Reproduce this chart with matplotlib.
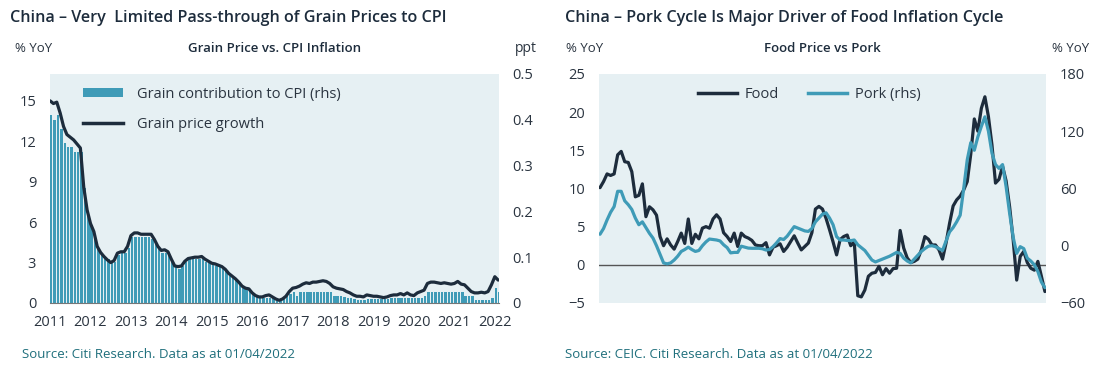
import numpy as np
import matplotlib
matplotlib.use('Agg')
import matplotlib.pyplot as plt
from matplotlib.patches import Patch
from matplotlib.lines import Line2D

plt.rcParams['font.family'] = ['Open Sans', 'DejaVu Sans']

# ---- data: grain chart (monthly, Jan 2011 - Feb 2022) ----
grain_growth = [
    15.0, 14.8, 14.9, 14.1, 13.1, 12.5, 12.3, 12.1, 11.8, 11.5, 8.6, 6.9,
    5.9, 5.3, 4.2, 3.75, 3.45, 3.2, 3.0, 3.15, 3.7, 3.8, 3.8, 4.2,
    5.0, 5.2, 5.2, 5.1, 5.1, 5.1, 5.1, 4.7, 4.2, 3.9, 3.95, 3.8,
    3.25, 2.75, 2.7, 2.75, 3.1, 3.3, 3.35, 3.4, 3.4, 3.45, 3.25, 3.1,
    2.95, 2.9, 2.8, 2.7, 2.5, 2.2, 2.0, 1.8, 1.55, 1.25, 1.1, 1.05,
    0.75, 0.55, 0.45, 0.45, 0.55, 0.6, 0.45, 0.3, 0.2, 0.3, 0.5, 0.85,
    1.1, 1.15, 1.25, 1.4, 1.5, 1.45, 1.55, 1.55, 1.6, 1.65, 1.6, 1.45,
    1.2, 1.1, 1.05, 1.0, 0.85, 0.75, 0.6, 0.5, 0.5, 0.45, 0.6, 0.55,
    0.5, 0.5, 0.45, 0.4, 0.45, 0.55, 0.6, 0.6, 0.7, 0.6, 0.75, 0.6,
    0.55, 0.75, 0.85, 0.95, 1.45, 1.55, 1.55, 1.5, 1.45, 1.5, 1.45, 1.4,
    1.45, 1.6, 1.4, 1.35, 1.1, 0.85, 0.75, 0.75, 0.8, 0.75, 0.85, 1.35,
    1.95, 1.7,
]
grain_contrib = [
    0.41, 0.40, 0.41, 0.38, 0.35, 0.34, 0.34, 0.33, 0.33, 0.33, 0.25, 0.19,
    0.17, 0.15, 0.12, 0.11, 0.10, 0.095, 0.09, 0.09, 0.105, 0.11, 0.11, 0.12,
    0.145, 0.145, 0.145, 0.145, 0.145, 0.145, 0.14, 0.13, 0.12, 0.11, 0.11, 0.11,
    0.09, 0.08, 0.075, 0.08, 0.09, 0.095, 0.095, 0.095, 0.095, 0.095, 0.09, 0.09,
    0.085, 0.08, 0.08, 0.075, 0.07, 0.06, 0.055, 0.05, 0.045, 0.035, 0.03, 0.03,
    0.02, 0.015, 0.01, 0.01, 0.01, 0.01, 0.01, 0.005, 0.005, 0.01, 0.015, 0.02,
    0.025, 0.015, 0.025, 0.025, 0.025, 0.025, 0.025, 0.025, 0.025, 0.025, 0.025, 0.025,
    0.015, 0.015, 0.015, 0.013, 0.01, 0.01, 0.008, 0.007, 0.007, 0.007, 0.008, 0.008,
    0.008, 0.008, 0.008, 0.008, 0.008, 0.01, 0.01, 0.01, 0.01, 0.01, 0.01, 0.01,
    0.01, 0.01, 0.012, 0.015, 0.025, 0.025, 0.025, 0.025, 0.025, 0.025, 0.025, 0.025,
    0.025, 0.025, 0.025, 0.015, 0.015, 0.015, 0.007, 0.007, 0.007, 0.007, 0.007, 0.012,
    0.033, 0.025,
]
year_ticks = list(range(2011, 2023))

# ---- data: food vs pork (monthly, Jan 2011 - Jul 2021) ----
food = [
    10.1, 10.9, 11.9, 11.7, 11.9, 14.4, 14.85, 13.5, 13.4, 12.2, 8.9, 9.1,
    10.6, 6.3, 7.6, 7.2, 6.5, 3.7, 2.5, 3.4, 2.6, 2.05, 3.05, 4.15,
    2.8, 6.0, 2.8, 4.0, 3.4, 4.8, 5.0, 4.8, 6.0, 6.55, 6.0, 4.2,
    3.7, 3.05, 4.15, 2.4, 4.15, 3.7, 3.5, 3.2, 2.6, 2.5, 2.5, 2.9,
    1.3, 2.3, 2.5, 2.75, 1.75, 2.3, 3.05, 3.8, 2.85, 1.95, 2.4, 2.85,
    4.2, 7.3, 7.65, 7.3, 6.1, 4.6, 3.0, 1.3, 3.3, 3.7, 3.9, 2.5,
    3.0, -4.05, -4.2, -3.3, -1.5, -1.1, -1.0, -0.2, -1.3, -0.5, -1.1, -0.5,
    -0.45, 4.5, 2.2, 0.9, 0.3, 0.45, 0.75, 1.95, 3.7, 3.35, 2.6, 2.6,
    1.95, 0.75, 2.85, 5.45, 7.7, 8.5, 9.0, 9.8, 10.9, 14.5, 19.1, 17.5,
    20.5, 22.0, 19.4, 15.7, 10.7, 11.2, 12.9, 11.0, 7.6, 3.3, -2.0, 1.1,
    1.75, 0.3, -0.45, -0.7, 0.45, -1.5, -3.5,
]
pork = [
    12, 18, 27, 35, 41, 57, 57, 47, 43, 38, 29, 22,
    25, 19, 13, 8, 0, -9, -18, -19, -18, -15, -11, -6,
    -4, -1.5, -4, -6, -5, 0, 4, 7, 6.5, 6, 5, 1,
    -2, -7.5, -7, -7, -0.5, -1.5, -2.5, -2.7, -2.7, -2.7, -3.2, -4.5,
    -4, -1, 3, 7.5, 6.5, 10, 15, 20, 18.5, 17, 15.5, 15,
    18, 25, 29, 33, 34.5, 29, 22, 9.5, 6, 6, 5.5, 5.3,
    6, 1, -2, -5, -10, -15, -17, -15.5, -14, -12.5, -11, -9,
    -7, -8, -13, -16, -18, -14, -10, -6, -3, -0.5, 0, -1,
    -3, -5, 5, 14.5, 19, 25, 32, 60, 90, 108, 100, 114,
    125, 135, 120, 97, 85, 81, 85, 62, 34, 9, -8, -1,
    -3, -13, -16, -20, -27, -38, -44,
]

NAVY = '#1d2c3c'
TEAL = '#3f9bb7'
BG = '#e6f0f3'
TXT = '#2a3440'
SRC = '#1f6f7c'

fig = plt.figure(figsize=(11, 3.75), dpi=100)

# ================= left chart =================
axL2 = fig.add_axes([0.0455, 0.192, 0.408, 0.611])
axL = axL2.twinx()
axL2.set_facecolor(BG)

t = 2011 + np.arange(len(grain_growth)) / 12
axL2.bar(t, grain_contrib, width=0.72 / 12, align='edge', color=TEAL, linewidth=0)
axL.plot(t, grain_growth, color=NAVY, lw=2.3, solid_capstyle='round')

# bars sit on the ppt scale (right), line on % YoY (left)
axL.yaxis.tick_left()
axL2.yaxis.tick_right()
axL.set_ylim(0, 17)
axL.set_yticks([0, 3, 6, 9, 12, 15])
axL2.set_ylim(0, 0.5)
axL2.set_yticks([0, 0.1, 0.2, 0.3, 0.4, 0.5])
axL2.set_yticklabels(['0', '0.1', '0.2', '0.3', '0.4', '0.5'])
axL2.set_xlim(2011.0, 2022.1)
axL2.set_xticks(year_ticks)
for a in (axL, axL2):
    for s in a.spines.values():
        s.set_visible(False)
    a.tick_params(length=0, labelsize=10.5, colors=TXT)
axL.tick_params(axis='y', pad=10)
axL2.tick_params(axis='y', pad=10)
axL2.tick_params(axis='x', pad=9)
axL2.spines['bottom'].set_visible(True)
axL2.spines['bottom'].set_color('#777777')
axL2.spines['bottom'].set_linewidth(0.8)

handles = [Patch(facecolor=TEAL, edgecolor='none'), Line2D([], [], color=NAVY, lw=2.5)]
axL.legend(handles, ['Grain contribution to CPI (rhs)', 'Grain price growth'],
           loc='upper left', bbox_to_anchor=(0.045, 1.0), frameon=False,
           fontsize=10.5, labelcolor=TXT, handlelength=2.7, handleheight=0.6,
           handletextpad=0.95, labelspacing=1.0)

# ================= right chart =================
axR = fig.add_axes([0.5445, 0.192, 0.4064, 0.611])
axR.set_facecolor(BG)
axR2 = axR.twinx()
m = np.arange(len(food))
axR.axhline(0, color='#555555', lw=1)
axR.plot(m, food, color=NAVY, lw=2.3, solid_capstyle='round')
axR2.plot(m, pork, color=TEAL, lw=2.3, solid_capstyle='round')
axR.set_ylim(-5, 25)
axR.set_yticks([-5, 0, 5, 10, 15, 20, 25])
axR2.set_ylim(-60, 180)
axR2.set_yticks([-60, 0, 60, 120, 180])
axR.set_xlim(-0.3, len(food) - 0.7)
axR.set_xticks([])
for a in (axR, axR2):
    for s in a.spines.values():
        s.set_visible(False)
    a.tick_params(length=0, labelsize=10.5, colors=TXT, pad=10)

handlesR = [Line2D([], [], color=NAVY, lw=2.5), Line2D([], [], color=TEAL, lw=2.5)]
axR2.legend(handlesR, ['Food', 'Pork (rhs)'], loc='upper center',
            bbox_to_anchor=(0.47, 1.0), ncol=2, frameon=False, fontsize=10.5,
            labelcolor=TXT, handlelength=2.7, handletextpad=0.5, columnspacing=2.0)

# ================= texts =================
fig.text(10 / 1100, 1 - 18 / 375, 'China \u2013 Very  Limited Pass-through of Grain Prices to CPI',
         fontsize=11.6, fontweight='semibold', color=NAVY, va='center', ha='left')
fig.text(565 / 1100, 1 - 18 / 375, 'China \u2013 Pork Cycle Is Major Driver of Food Inflation Cycle',
         fontsize=11.6, fontweight='semibold', color=NAVY, va='center', ha='left')

fig.text(15 / 1100, 1 - 48 / 375, '% YoY', fontsize=9.5, color=TXT, va='center', ha='left')
fig.text(275 / 1100, 1 - 48 / 375, 'Grain Price vs. CPI Inflation', fontsize=9.5,
         fontweight='semibold', color=NAVY, va='center', ha='center')
fig.text(515 / 1100, 1 - 49 / 375, 'ppt', fontsize=10, color=TXT, va='center', ha='left')

fig.text(566 / 1100, 1 - 48 / 375, '% YoY', fontsize=9.5, color=TXT, va='center', ha='left')
fig.text(822 / 1100, 1 - 48 / 375, 'Food Price vs Pork', fontsize=9.5,
         fontweight='semibold', color=NAVY, va='center', ha='center')
fig.text(1052 / 1100, 1 - 48 / 375, '% YoY', fontsize=9.5, color=TXT, va='center', ha='left')

fig.text(22 / 1100, 1 - 355 / 375, 'Source: Citi Research. Data as at 01/04/2022',
         fontsize=9.5, color=SRC, va='center', ha='left')
fig.text(565 / 1100, 1 - 355 / 375, 'Source: CEIC. Citi Research. Data as at 01/04/2022',
         fontsize=9.5, color=SRC, va='center', ha='left')

fig.savefig('out.png', dpi=100)
